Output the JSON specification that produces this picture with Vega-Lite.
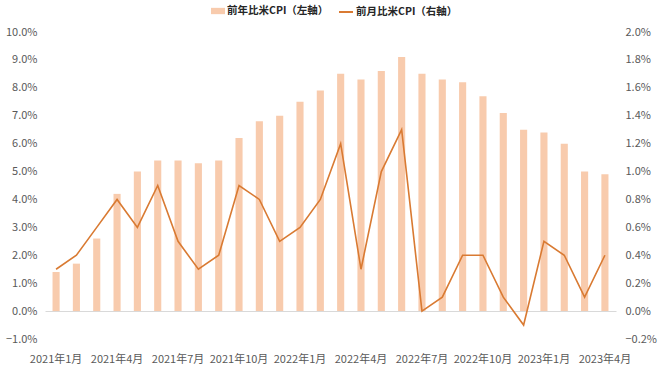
{
  "$schema": "https://vega.github.io/schema/vega-lite/v6.json",
  "autosize": "none",
  "width": 571,
  "height": 307,
  "padding": {"left": 45, "top": 32, "right": 44, "bottom": 32},
  "background": "white",
  "config": {
    "view": {"stroke": null},
    "font": "Noto Sans CJK JP",
    "axis": {"labelFont": "Noto Sans CJK JP", "labelFontSize": 11, "labelColor": "#595959", "domain": false, "ticks": false, "grid": false, "title": null, "labelOverlap": false, "labelFlush": false}
  },
  "data": {
    "values": [
      {"month": "2021年1月", "yoy": 1.4, "mom": 0.3},
      {"month": "2021年2月", "yoy": 1.7, "mom": 0.4},
      {"month": "2021年3月", "yoy": 2.6, "mom": 0.6},
      {"month": "2021年4月", "yoy": 4.2, "mom": 0.8},
      {"month": "2021年5月", "yoy": 5.0, "mom": 0.6},
      {"month": "2021年6月", "yoy": 5.4, "mom": 0.9},
      {"month": "2021年7月", "yoy": 5.4, "mom": 0.5},
      {"month": "2021年8月", "yoy": 5.3, "mom": 0.3},
      {"month": "2021年9月", "yoy": 5.4, "mom": 0.4},
      {"month": "2021年10月", "yoy": 6.2, "mom": 0.9},
      {"month": "2021年11月", "yoy": 6.8, "mom": 0.8},
      {"month": "2021年12月", "yoy": 7.0, "mom": 0.5},
      {"month": "2022年1月", "yoy": 7.5, "mom": 0.6},
      {"month": "2022年2月", "yoy": 7.9, "mom": 0.8},
      {"month": "2022年3月", "yoy": 8.5, "mom": 1.2},
      {"month": "2022年4月", "yoy": 8.3, "mom": 0.3},
      {"month": "2022年5月", "yoy": 8.6, "mom": 1.0},
      {"month": "2022年6月", "yoy": 9.1, "mom": 1.3},
      {"month": "2022年7月", "yoy": 8.5, "mom": 0.0},
      {"month": "2022年8月", "yoy": 8.3, "mom": 0.1},
      {"month": "2022年9月", "yoy": 8.2, "mom": 0.4},
      {"month": "2022年10月", "yoy": 7.7, "mom": 0.4},
      {"month": "2022年11月", "yoy": 7.1, "mom": 0.1},
      {"month": "2022年12月", "yoy": 6.5, "mom": -0.1},
      {"month": "2023年1月", "yoy": 6.4, "mom": 0.5},
      {"month": "2023年2月", "yoy": 6.0, "mom": 0.4},
      {"month": "2023年3月", "yoy": 5.0, "mom": 0.1},
      {"month": "2023年4月", "yoy": 4.9, "mom": 0.4}
    ]
  },
  "encoding": {
    "x": {
      "field": "month", "type": "ordinal", "sort": null,
      "scale": {"paddingInner": 0.65, "paddingOuter": 0.37},
      "axis": {"labelAngle": 0, "labelPadding": 14, "labelOverlap": false, "values": ["2021年1月","2021年4月","2021年7月","2021年10月","2022年1月","2022年4月","2022年7月","2022年10月","2023年1月","2023年4月"]}
    }
  },
  "layer": [
    {
      "mark": {"type": "bar", "color": "#F8CBAD"},
      "encoding": {
        "y": {"field": "yoy", "type": "quantitative", "scale": {"domain": [-1, 10], "nice": false, "zero": false},
          "axis": {"values": [-1,0,1,2,3,4,5,6,7,8,9,10], "labelOverlap": false, "labelExpr": "format(datum.value, '.1f') + '%'", "labelPadding": 8,
            "grid": true, "gridColor": "#D9D9D9", "gridWidth": 1, "gridOpacity": {"condition": {"test": "datum.value === 0", "value": 1}, "value": 0}}},
        "fill": {"datum": "前年比米CPI（左軸）", "type": "nominal",
          "scale": {"range": ["#F8CBAD"]},
          "legend": {"orient": "none", "legendX": 166, "legendY": -28, "title": null, "symbolType": "M-1,-0.45H1V0.45H-1Z", "symbolSize": 196, "symbolStrokeWidth": 0, "labelFont": "Noto Sans CJK JP", "labelFontSize": 10.5, "labelFontWeight": "bold", "labelColor": "#262626", "labelOffset": 2}}
      }
    },
    {
      "mark": {"type": "line", "color": "#D97A32", "strokeWidth": 1.6},
      "encoding": {
        "y": {"field": "mom", "type": "quantitative", "scale": {"domain": [-0.2, 2.0], "nice": false, "zero": false},
          "axis": {"orient": "right", "values": [-0.2,0,0.2,0.4,0.6,0.8,1.0,1.2,1.4,1.6,1.8,2.0], "labelOverlap": false, "labelExpr": "format(datum.value, '.1f') + '%'", "labelPadding": 9}},
        "stroke": {"datum": "前月比米CPI（右軸）", "type": "nominal",
          "scale": {"range": ["#D97A32"]},
          "legend": {"orient": "none", "legendX": 293, "legendY": -28, "title": null, "symbolType": "stroke", "symbolSize": 196, "symbolStrokeWidth": 2, "labelFont": "Noto Sans CJK JP", "labelFontSize": 10.5, "labelFontWeight": "bold", "labelColor": "#262626", "labelOffset": 2}}
      }
    }
  ],
  "resolve": {"scale": {"y": "independent"}}
}
